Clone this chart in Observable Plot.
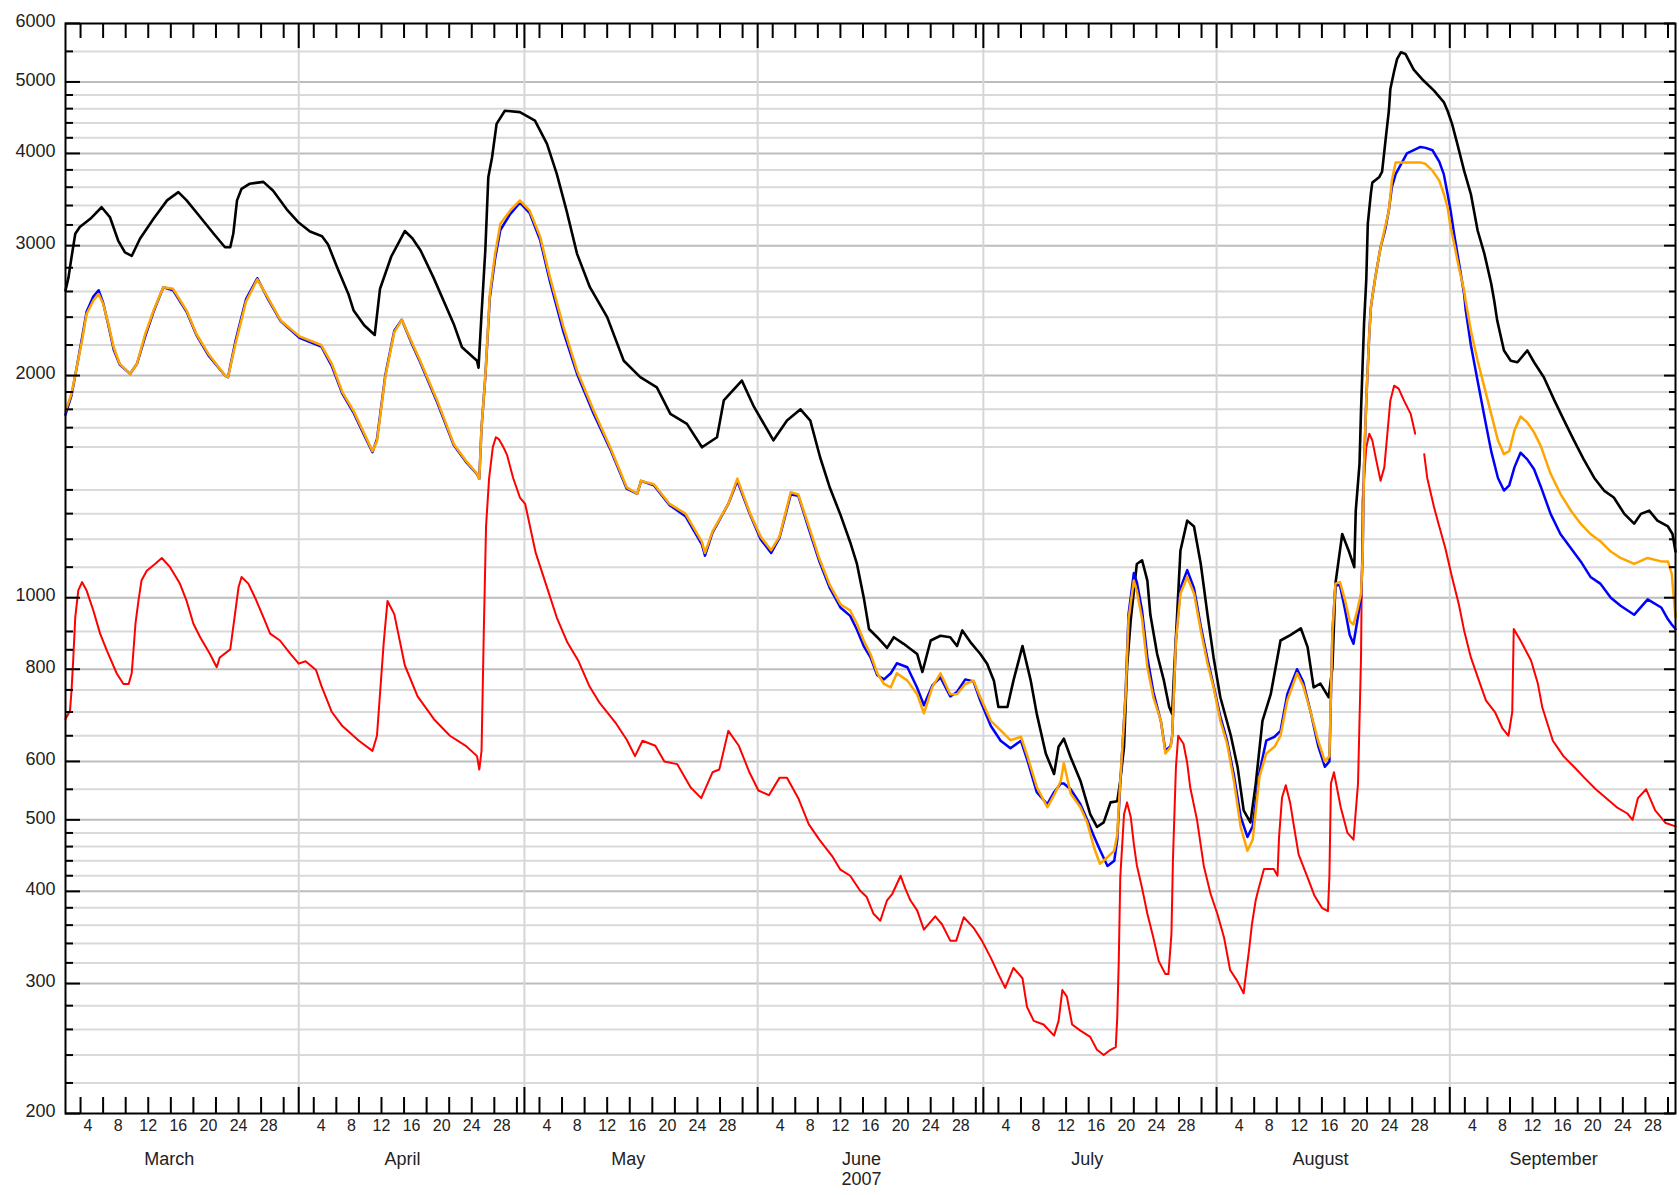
<!DOCTYPE html>
<html><head><meta charset="utf-8">
<script src="https://cdn.jsdelivr.net/npm/d3@7"></script>
<script src="https://cdn.jsdelivr.net/npm/@observablehq/plot@0.6"></script>
<style>html,body{margin:0;padding:0;background:#fff;} svg{display:block}</style>
</head><body><div id="chart"></div>
<script>
// Days are counted from 2007-03-01 00:00 (UTC)
const blackDays = [0.0,0.4,0.8,1.3,1.9,3.3,4.8,5.9,7.0,7.9,8.8,9.9,11.7,13.5,15.0,16.1,17.9,19.7,21.2,21.9,22.3,22.8,23.4,24.5,26.3,27.6,29.4,30.9,32.5,34.1,34.9,36.1,37.6,38.3,39.7,41.1,41.8,43.3,45.1,46.1,47.2,48.9,51.6,52.7,54.7,54.9,55.3,55.8,56.2,56.7,57.3,58.4,60.4,62.4,64.0,65.3,66.6,68.0,69.7,72.0,74.2,76.4,78.6,80.4,82.6,84.6,86.6,87.5,89.9,91.5,94.1,95.9,97.7,99.0,100.3,101.6,103.0,104.3,105.2,106.1,106.8,107.9,109.2,110.1,111.4,113.2,113.9,115.0,116.3,117.6,118.5,119.2,120.3,121.6,122.5,123.4,124.0,125.2,126.0,127.2,128.3,129.1,130.3,131.4,132.0,132.7,133.6,134.9,136.2,137.1,138.0,138.9,139.8,140.2,140.7,141.1,141.6,142.4,143.1,143.8,144.2,145.1,146.0,146.7,147.1,147.3,148.2,149.1,150.0,150.9,151.8,152.6,153.5,154.9,155.8,156.6,157.5,158.2,159.1,160.2,161.5,162.8,164.2,165.1,165.9,166.8,167.9,168.4,168.8,169.7,170.6,171.3,171.5,172.0,172.2,172.6,172.9,173.1,173.5,173.7,174.6,175.0,175.5,175.9,176.1,176.6,177.0,177.5,178.1,179.2,180.5,181.9,183.2,183.7,184.3,185.0,185.9,186.8,187.7,188.6,189.5,189.9,190.3,191.2,192.1,193.0,194.3,195.2,196.5,197.9,199.2,200.5,201.8,203.2,204.5,205.8,207.2,208.5,209.4,210.5,211.6,213.0,213.6,214.0];
const blackVals = [2608,2717,2893,3113,3180,3262,3382,3280,3048,2938,2905,3065,3262,3455,3545,3455,3280,3113,2985,2985,3113,3455,3582,3640,3660,3560,3360,3230,3135,3090,3010,2805,2580,2450,2340,2270,2620,2900,3140,3070,2955,2717,2350,2185,2095,2050,2424,2955,3713,3953,4387,4570,4550,4432,4122,3752,3346,2924,2635,2400,2095,1990,1928,1775,1720,1599,1650,1851,1969,1815,1634,1738,1800,1738,1550,1409,1296,1189,1111,1001,907,884,855,884,866,839,793,875,888,884,860,903,870,839,814,772,711,711,772,860,772,696,615,577,628,644,608,565,509,489,496,528,530,565,628,805,935,1111,1124,1055,948,839,772,711,696,772,1159,1272,1249,1111,948,830,733,650,589,515,496,559,681,740,875,890,909,857,756,765,733,805,1045,1220,1155,1100,1312,1518,1793,2350,2700,3211,3524,3652,3713,3780,4207,4570,4892,5170,5373,5484,5457,5195,5022,4866,4695,4570,4387,4122,3791,3524,3145,2924,2666,2528,2376,2163,2095,2085,2163,2085,1990,1851,1738,1634,1540,1453,1397,1367,1299,1260,1299,1312,1272,1249,1220,1155];

const orangeDays = [0.0,0.8,1.5,2.2,2.8,3.7,4.4,5.0,5.7,6.4,7.2,8.6,9.5,10.6,11.7,13.0,14.3,16.1,17.4,19.0,21.2,21.6,22.6,24.0,25.5,26.9,28.6,31.1,34.0,35.4,36.8,38.3,39.7,40.8,41.4,42.5,43.7,44.7,46.1,47.1,49.4,51.6,53.3,54.7,55.0,55.3,55.8,56.4,57.1,57.8,59.1,60.4,61.7,63.1,64.4,66.2,68.0,70.2,72.4,74.6,76.0,76.5,78.2,80.3,82.4,84.6,85.0,86.0,88.1,89.3,91.0,92.4,93.8,94.9,96.4,97.4,98.8,100.2,101.6,103.0,104.3,105.2,106.1,107.0,107.9,108.8,109.7,110.5,111.9,113.2,114.1,115.2,116.3,117.6,118.5,119.6,120.7,121.6,123.0,124.3,125.6,127.0,127.9,129.1,130.5,131.4,132.3,132.7,133.6,134.9,135.8,136.7,137.5,138.5,139.4,139.8,140.2,140.9,141.3,142.0,142.4,143.1,143.8,144.6,145.6,146.2,146.9,147.1,147.6,148.2,149.1,150.0,150.9,151.8,152.6,153.5,154.4,155.3,156.2,157.1,157.8,158.7,159.6,160.7,161.5,162.4,163.7,164.5,165.5,166.5,167.4,168.0,168.4,168.8,169.4,170.1,170.7,171.2,171.7,172.2,172.4,172.6,172.9,173.3,173.5,173.7,174.1,174.8,175.4,175.9,176.3,176.8,178.3,180.1,180.8,181.7,182.6,183.2,183.7,184.1,184.6,185.2,185.9,186.1,186.8,187.7,188.6,189.5,190.4,191.2,191.9,192.6,193.4,194.3,195.2,196.1,197.4,198.7,200.1,201.4,202.7,204.0,205.4,206.7,208.5,210.3,212.1,213.0,213.5,214.0];
const orangeVals = [1790,1890,2054,2231,2424,2528,2580,2502,2350,2185,2075,2011,2075,2277,2450,2635,2622,2450,2277,2140,2000,1990,2210,2520,2700,2550,2375,2260,2200,2075,1900,1790,1670,1580,1630,1990,2290,2380,2210,2100,1851,1616,1530,1472,1450,1700,1990,2580,2924,3211,3346,3454,3346,3083,2717,2327,2031,1793,1599,1411,1383,1440,1425,1340,1300,1190,1150,1230,1340,1450,1300,1210,1160,1210,1390,1380,1250,1130,1040,980,961,922,875,839,790,764,756,790,772,740,697,756,790,740,740,764,772,733,681,661,641,648,608,554,520,540,565,597,543,520,496,459,436,445,454,478,565,733,935,1055,1022,935,805,733,681,615,628,650,875,1013,1067,1013,903,814,756,681,634,565,489,454,470,572,615,628,650,726,790,760,700,640,600,610,900,1045,1050,990,929,920,961,1013,1124,1503,1851,2279,2466,2555,2717,2985,3180,3346,3675,3890,3890,3890,3870,3791,3675,3527,3382,3180,3010,2805,2608,2528,2302,2095,1928,1775,1634,1565,1580,1686,1760,1728,1675,1605,1472,1383,1312,1260,1220,1193,1155,1132,1111,1132,1120,1120,1077,942];
// blue shares the orange sampling days
const blueVals = [1770,1880,2054,2250,2440,2560,2610,2510,2340,2170,2070,2011,2075,2260,2440,2635,2610,2440,2270,2130,2000,1990,2230,2540,2710,2540,2370,2250,2190,2060,1890,1780,1660,1575,1640,2000,2300,2380,2200,2090,1840,1610,1525,1470,1450,1700,1990,2550,2880,3150,3310,3430,3320,3050,2680,2290,2010,1775,1590,1405,1383,1440,1420,1335,1290,1180,1140,1225,1340,1440,1295,1200,1150,1205,1380,1375,1240,1120,1030,970,945,905,860,830,785,775,790,815,805,755,715,760,780,735,745,775,770,725,670,640,625,640,600,545,525,545,560,560,550,525,500,475,455,433,440,470,560,740,950,1080,1050,960,830,745,680,620,630,650,880,1030,1090,1030,915,825,760,690,640,575,505,474,490,580,640,648,660,740,800,770,700,630,590,600,900,1040,1040,960,890,866,930,1000,1124,1503,1851,2279,2466,2555,2717,2985,3150,3350,3600,3750,4000,4082,4070,4040,3900,3750,3527,3350,3100,2850,2580,2460,2200,1967,1760,1580,1453,1397,1420,1503,1572,1540,1493,1414,1299,1220,1167,1120,1067,1045,1000,975,948,995,970,935,920,907];

const redDays = [0.0,0.6,0.8,1.0,1.3,1.7,2.2,2.8,3.7,4.6,5.5,6.8,7.7,8.4,8.8,9.0,9.3,9.7,10.1,10.8,11.9,12.8,13.9,15.2,16.1,17.0,17.9,19.2,20.1,20.5,21.9,22.3,23.0,23.4,24.3,25.2,26.3,27.2,28.5,29.9,31.0,31.9,33.3,34.0,35.4,36.8,39.0,40.8,41.4,42.3,42.8,43.7,45.1,46.8,49.0,51.1,53.2,54.7,55.0,55.3,55.6,55.9,56.3,56.8,57.2,57.6,58.2,58.7,59.5,60.4,61.1,62.5,63.9,65.3,66.7,68.2,69.6,71.0,73.2,74.6,75.7,76.7,78.4,79.6,81.3,83.1,84.5,86.0,86.9,88.1,89.5,90.9,92.1,93.5,94.9,95.9,97.4,98.8,100.2,102.0,103.0,104.3,105.6,106.5,107.4,108.3,109.2,109.9,111.0,111.6,112.3,113.2,114.1,115.6,116.5,117.6,118.4,119.4,120.7,121.8,123.0,124.0,124.9,126.0,127.2,127.8,128.7,130.0,131.4,132.0,132.5,133.1,133.8,134.9,136.2,137.1,138.0,138.9,139.6,139.8,140.0,140.2,140.7,141.1,141.6,142.0,142.4,143.1,143.8,144.6,145.3,146.2,146.6,147.0,147.2,147.6,147.9,148.6,149.1,149.5,150.4,151.3,152.2,153.1,154.0,154.8,155.7,156.6,156.8,157.3,157.7,158.2,158.6,159.3,160.6,161.1,161.3,161.7,162.2,162.8,163.3,163.9,165.0,166.0,167.0,167.8,168.0,168.2,168.6,169.5,170.4,171.2,171.8,172.2,172.4,172.9,173.3,173.7,174.2,174.8,175.3,175.7,176.1,176.6,177.2,177.9,178.8,179.4,179.9,180.6,181.0,181.9,182.5,183.4,184.3,185.2,185.9,186.8,187.7,188.8,190.0,191.0,191.8,192.3,192.5,193.4,194.8,195.7,196.3,197.7,199.1,200.5,201.9,203.4,204.8,206.2,207.6,208.3,209.0,210.1,211.3,212.7,214.0];
const redVals = [685,703,748,814,941,1023,1050,1023,961,894,848,790,764,764,790,839,922,991,1055,1088,1111,1132,1100,1045,990,922,884,839,805,830,851,913,1033,1067,1045,1000,941,894,875,839,814,820,798,760,700,670,640,620,650,870,990,950,810,735,684,650,630,610,585,620,900,1250,1450,1600,1650,1640,1600,1560,1453,1367,1340,1150,1040,940,870,820,760,720,675,642,610,640,630,600,595,553,535,580,585,660,630,580,548,540,570,570,535,493,470,445,428,420,401,393,373,365,389,397,420,404,389,377,355,370,361,343,343,369,357,343,325,309,296,315,305,279,267,264,255,267,294,288,264,259,254,244,240,244,246,270,322,418,509,528,504,464,434,404,373,346,322,309,309,350,441,590,650,634,597,553,500,433,397,373,346,313,303,291,303,332,361,389,404,429,429,420,473,536,557,526,489,449,420,395,380,376,420,560,580,520,480,470,560,830,1355,1599,1668,1634,1540,1440,1503,1668,1851,1938,1920,1851,1775,1668,null,1565,1453,1327,1260,1168,1066,980,903,830,781,726,700,665,650,700,907,875,822,765,710,640,610,590,570,550,535,520,510,500,535,550,515,495,490];

// axes
const monthNames = ["March","April","May","June","July","August","September"];
const dayLabels = [4,8,12,16,20,24,28];
const dayTickNums = [3,6,9,12,15,18,21,24,27,30];
const yLabels = [200,300,400,500,600,800,1000,2000,3000,4000,5000,6000];
const yMinor = [220,240,260,280,320,340,360,380,420,440,460,480,550,650,700,750,850,900,1100,1200,1300,1400,1600,1700,1800,1900,2200,2400,2600,2800,3200,3400,3600,3800,4200,4400,4600,4800,5500];
const yearLabel = "2007";

const t0 = Date.UTC(2007, 2, 1);
const toDate = d => new Date(t0 + d * 864e5);
const series = (days, vals) => days.map((d, i) => ({t: toDate(d), v: vals[i]}));
const black = series(blackDays, blackVals);
const orange = series(orangeDays, orangeVals);
const blue = series(orangeDays, blueVals);
const red = series(redDays, redVals);

const monthStarts = monthNames.map((m, i) => new Date(Date.UTC(2007, 2 + i, 1)));
const innerMonths = monthStarts.slice(1);
const dayTicks = monthStarts.flatMap((ms, i) => dayTickNums.map(n => new Date(Date.UTC(2007, 2 + i, n))));
const dayLabelDates = monthStarts.flatMap((ms, i) => dayLabels.map(n => new Date(Date.UTC(2007, 2 + i, n))));
const monthLabelPos = monthStarts.map((ms, i) => ({t: new Date(ms.getTime() + 13.8 * 864e5), name: monthNames[i]}));

const W = 1679, H = 1195, ML = 65, MR = 4, MT = 23, MB = 82;
const FW = W - ML - MR, FH = H - MT - MB;
const font = "'Liberation Sans', Arial, Helvetica, sans-serif";
const txt = "#222";

const chart = Plot.plot({
  width: W, height: H,
  marginLeft: ML, marginRight: MR, marginTop: MT, marginBottom: MB,
  x: {type: "utc", domain: [toDate(0), toDate(214)], axis: null},
  y: {type: "log", domain: [200, 6000], axis: null},
  style: {fontFamily: font, background: "white", overflow: "visible"},
  marks: [
    Plot.ruleY(yMinor, {stroke: "#d9d9d9", strokeWidth: 2}),
    Plot.ruleY(yLabels.filter(v => v > 200 && v < 6000), {stroke: "#bdbdbd", strokeWidth: 2}),
    Plot.ruleX(innerMonths, {stroke: "#d6d6d6", strokeWidth: 2}),
    Plot.line(red, {x: "t", y: "v", stroke: "#ff0000", strokeWidth: 2}),
    Plot.line(black, {x: "t", y: "v", stroke: "#000000", strokeWidth: 2.6}),
    Plot.line(blue, {x: "t", y: "v", stroke: "#0000ff", strokeWidth: 2.5}),
    Plot.line(orange, {x: "t", y: "v", stroke: "#ffa500", strokeWidth: 2.5}),
    Plot.frame({stroke: "#000", strokeWidth: 2}),
    // left ticks
    Plot.tickY(yLabels, {y: d => d, stroke: "#000", strokeWidth: 2, insetRight: FW - 15}),
    Plot.tickY(yMinor, {y: d => d, stroke: "#000", strokeWidth: 2, insetRight: FW - 8}),
    // right ticks
    Plot.tickY(yLabels, {y: d => d, stroke: "#000", strokeWidth: 2, insetLeft: FW - 11}),
    Plot.tickY(yMinor, {y: d => d, stroke: "#000", strokeWidth: 2, insetLeft: FW - 6}),
    // top and bottom day ticks
    Plot.tickX(dayTicks, {x: d => d, stroke: "#000", strokeWidth: 2, insetBottom: FH - 15}),
    Plot.tickX(dayTicks, {x: d => d, stroke: "#000", strokeWidth: 2, insetTop: FH - 16}),
    Plot.tickX(innerMonths, {x: d => d, stroke: "#000", strokeWidth: 2, insetBottom: FH - 25}),
    Plot.tickX(innerMonths, {x: d => d, stroke: "#000", strokeWidth: 2, insetTop: FH - 26}),
    // labels
    Plot.text(yLabels, {y: d => d, text: d => String(d), frameAnchor: "left", textAnchor: "end", dx: -10, dy: -2, fontSize: 18, fill: txt, fontFamily: font}),
    Plot.text(dayLabelDates, {x: d => d, text: d => String(d.getUTCDate()), frameAnchor: "bottom", dy: 17, fontSize: 16, fill: txt, fontFamily: font}),
    Plot.text(monthLabelPos, {x: "t", text: "name", frameAnchor: "bottom", dy: 51, fontSize: 18, fill: txt, fontFamily: font}),
    Plot.text([monthLabelPos[3]], {x: "t", text: () => yearLabel, frameAnchor: "bottom", dy: 71, fontSize: 18, fill: txt, fontFamily: font})
  ]
});
document.getElementById("chart").appendChild(chart);
</script>
</body></html>
